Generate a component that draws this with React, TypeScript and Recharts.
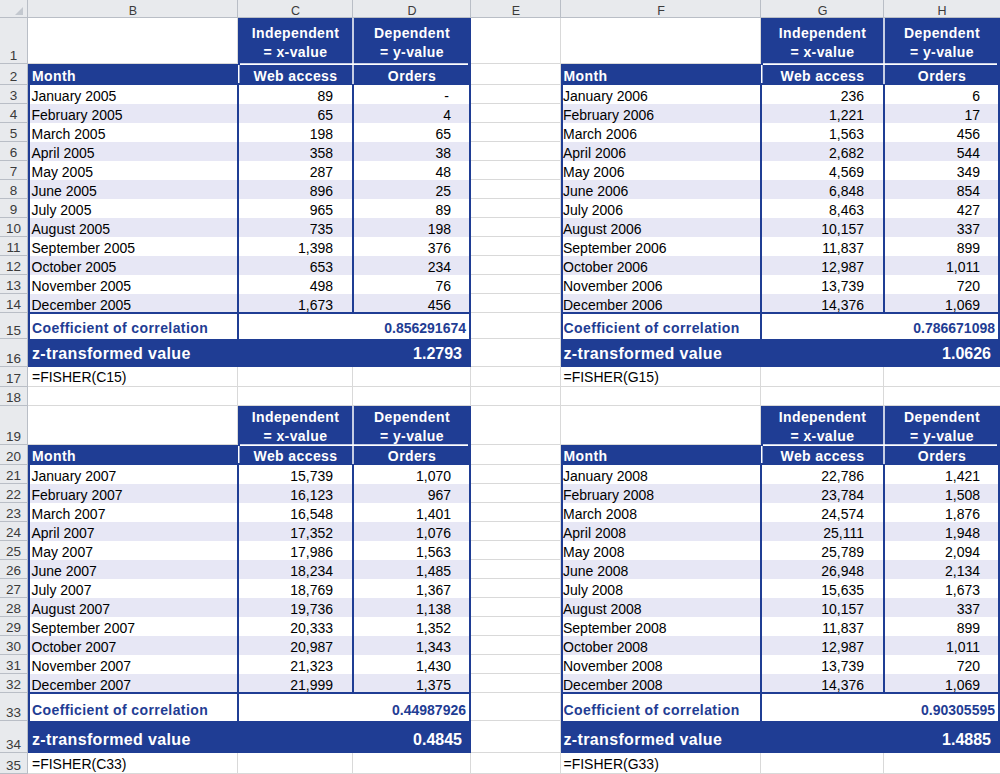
import { Surface, Layer, Rectangle, Text, Polygon } from "recharts";

// ---- data ----
const MONTHS = ["January", "February", "March", "April", "May", "June", "July", "August", "September", "October", "November", "December"];
const COLUMN_LETTERS = ["B", "C", "D", "E", "F", "G", "H"];
const YEARS = [2005, 2006, 2007, 2008];

const WEB_2005 = [89, 65, 198, 358, 287, 896, 965, 735, 1398, 653, 498, 1673];
const ORDERS_2005 = [0, 4, 65, 38, 48, 25, 89, 198, 376, 234, 76, 456];
const WEB_2006 = [236, 1221, 1563, 2682, 4569, 6848, 8463, 10157, 11837, 12987, 13739, 14376];
const ORDERS_2006 = [6, 17, 456, 544, 349, 854, 427, 337, 899, 1011, 720, 1069];
const WEB_2007 = [15739, 16123, 16548, 17352, 17986, 18234, 18769, 19736, 20333, 20987, 21323, 21999];
const ORDERS_2007 = [1070, 967, 1401, 1076, 1563, 1485, 1367, 1138, 1352, 1343, 1430, 1375];
const WEB_2008 = [22786, 23784, 24574, 25111, 25789, 26948, 15635, 10157, 11837, 12987, 13739, 14376];
const ORDERS_2008 = [1421, 1508, 1876, 1948, 2094, 2134, 1673, 337, 899, 1011, 720, 1069];

const CORRELATIONS = [0.856291674, 0.786671098, 0.44987926, 0.90305595];
const Z_VALUES = [1.2793, 1.0626, 0.4845, 1.4885];
const FORMULAS = ["=FISHER(C15)", "=FISHER(G15)", "=FISHER(C33)", "=FISHER(G33)"];

const X_HEADER = ["Independent", "= x-value"];
const Y_HEADER = ["Dependent", "= y-value"];
const X_NAME = "Web access";
const Y_NAME = "Orders";

// ---- sheet layout ----
const W = 1000;
const H = 774;
const COL_EDGES = [0, 28, 238, 353, 471, 561, 761, 884, 1000];
// index 0 = column header strip, then rows 1..35
const ROW_HEIGHTS = [
  18, 46, 21, 19, 19, 19, 19, 19, 19, 19, 19, 19, 19, 19, 19, 26, 28, 20, 19,
  39, 20, 19, 19, 19, 19, 19, 19, 19, 19, 19, 19, 19, 19, 28, 32, 21,
];
const ROW_TOPS = ROW_HEIGHTS.reduce<number[]>((acc, h, i) => {
  acc.push(i === 0 ? 0 : acc[i - 1] + ROW_HEIGHTS[i - 1]);
  return acc;
}, []);
const top = (r: number) => ROW_TOPS[r];
const bottom = (r: number) => (r + 1 < ROW_TOPS.length ? ROW_TOPS[r + 1] : H);

const NAVY = "#1f3d94";
const LAVENDER = "#e7e7f5";
const GRID = "#d9d9d9";
const HEAD_BG = "#e8eaed";
const HEAD_LINE = "#b9bec6";
const HEAD_TEXT = "#3b3b3b";
const FONT = "'Liberation Sans', Arial, sans-serif";

const fmt = (n: number) => n.toLocaleString("en-US");

function Label({ x, y, anchor = "start", size = 14, bold = false, color = "#000", spacing = 0, children }: any) {
  return (
    <Text
      x={x}
      y={y}
      textAnchor={anchor}
      verticalAnchor="end"
      fontFamily={FONT}
      fontSize={size}
      fontWeight={bold ? "bold" : "normal"}
      fill={color}
      letterSpacing={spacing}
    >
      {children}
    </Text>
  );
}

function Block({ col, row, year, web, orders, corr, z, formula }: any) {
  const bX = COL_EDGES[col];
  const cX = COL_EDGES[col + 1];
  const dX = COL_EDGES[col + 2];
  const eX = COL_EDGES[col + 3];
  const pad = col === 1 ? 4 : 2.5;
  const h1 = row;
  const h2 = row + 1;
  const first = row + 2;
  const last = row + 13;
  const corrRow = row + 14;
  const zRow = row + 15;
  const fRow = row + 16;
  const mid1 = (top(h1) + bottom(h1)) / 2;

  return (
    <Layer>
      {/* fills */}
      <Rectangle x={cX} y={top(h1)} width={eX - cX} height={bottom(h1) - top(h1)} fill={NAVY} />
      <Rectangle x={bX} y={top(h2)} width={eX - bX} height={bottom(h2) - top(h2)} fill={NAVY} />
      {MONTHS.map((m, i) => (
        <Rectangle
          key={m}
          x={bX}
          y={top(first + i)}
          width={eX - bX}
          height={bottom(first + i) - top(first + i)}
          fill={i % 2 === 1 ? LAVENDER : "#ffffff"}
        />
      ))}
      <Rectangle x={bX} y={top(corrRow)} width={eX - bX} height={bottom(corrRow) - top(corrRow)} fill="#ffffff" />
      <Rectangle x={bX} y={top(zRow)} width={eX - bX} height={bottom(zRow) - top(zRow)} fill={NAVY} />

      {/* navy borders */}
      <Rectangle x={bX} y={top(h2)} width={2} height={bottom(zRow) - top(h2)} fill={NAVY} />
      <Rectangle x={cX - 1} y={top(first)} width={2} height={bottom(corrRow) - top(first)} fill={NAVY} />
      <Rectangle x={dX - 1} y={top(first)} width={2} height={bottom(last) - top(first)} fill={NAVY} />
      <Rectangle x={eX - 2} y={top(h1)} width={2} height={bottom(zRow) - top(h1)} fill={NAVY} />
      <Rectangle x={bX} y={bottom(last) - 1} width={eX - bX} height={2} fill={NAVY} />

      {/* white separators in the header block */}
      <Rectangle x={dX - 0.75} y={top(h1)} width={1.5} height={bottom(h2) - top(h1) - 1} fill="#ffffff" />
      <Rectangle x={cX + 2} y={bottom(h1) - 0.75} width={eX - cX - 5} height={1.75} fill="#ffffff" />
      <Rectangle x={cX} y={top(h2) + 1} width={1.5} height={bottom(h2) - top(h2) - 3} fill="#ffffff" />

      {/* header text */}
      {X_HEADER.map((t, i) => (
        <Label key={"x" + i} x={(cX + dX) / 2} y={mid1 - 3.5 + i * 19} anchor="middle" bold color="#fff" spacing={0.4}>
          {t}
        </Label>
      ))}
      {Y_HEADER.map((t, i) => (
        <Label key={"y" + i} x={(dX + eX) / 2} y={mid1 - 3.5 + i * 19} anchor="middle" bold color="#fff" spacing={0.4}>
          {t}
        </Label>
      ))}
      <Label x={bX + pad} y={bottom(h2) - 4} bold color="#fff" spacing={0.4}>Month</Label>
      <Label x={(cX + dX) / 2} y={bottom(h2) - 4} anchor="middle" bold color="#fff" spacing={0.4}>{X_NAME}</Label>
      <Label x={(dX + eX) / 2} y={bottom(h2) - 4} anchor="middle" bold color="#fff" spacing={0.4}>{Y_NAME}</Label>

      {/* data rows */}
      {MONTHS.map((m, i) => {
        const y = bottom(first + i) - 3;
        return (
          <Layer key={"d" + m}>
            <Label x={bX + pad - 0.5} y={y}>{`${m} ${year}`}</Label>
            <Label x={dX - 20} y={y} anchor="end">{fmt(web[i])}</Label>
            <Label x={orders[i] === 0 ? eX - 22 : eX - 20} y={y} anchor="end">
              {orders[i] === 0 ? "-" : fmt(orders[i])}
            </Label>
          </Layer>
        );
      })}

      {/* summary rows */}
      <Label x={bX + pad} y={bottom(corrRow) - 6.5} bold color={NAVY} spacing={0.4}>Coefficient of correlation</Label>
      <Label x={eX - 5} y={bottom(corrRow) - 6.5} anchor="end" bold color={NAVY}>{String(corr)}</Label>
      <Label x={bX + pad} y={bottom(zRow) - 8.5} size={16} bold color="#fff" spacing={0.35}>z-transformed value</Label>
      <Label x={eX - 9} y={bottom(zRow) - 8.5} anchor="end" size={16} bold color="#fff">{z.toFixed(4)}</Label>
      <Label x={bX + pad} y={bottom(fRow) - 5}>{formula}</Label>
    </Layer>
  );
}

export default function App() {
  const rowCount = ROW_HEIGHTS.length - 1;
  const rowNums = Array.from({ length: rowCount }, (_, i) => i + 1);
  const blocks = [
    { col: 1, row: 1, web: WEB_2005, orders: ORDERS_2005 },
    { col: 5, row: 1, web: WEB_2006, orders: ORDERS_2006 },
    { col: 1, row: 19, web: WEB_2007, orders: ORDERS_2007 },
    { col: 5, row: 19, web: WEB_2008, orders: ORDERS_2008 },
  ];

  return (
    <div style={{ position: "absolute", left: 0, top: 0, width: W, height: H, background: "#fff" }}>
      <Surface width={W} height={H}>
        <Rectangle x={0} y={0} width={W} height={H} fill="#ffffff" />

        {/* cell gridlines */}
        {COL_EDGES.slice(2, -1).map((x) => (
          <Rectangle key={"gv" + x} x={x - 1} y={18} width={1} height={H - 18} fill={GRID} />
        ))}
        {rowNums.map((r) => (
          <Rectangle key={"gh" + r} x={28} y={bottom(r) - 1} width={W - 28} height={1} fill={GRID} />
        ))}

        {blocks.map((b, i) => (
          <Block
            key={i}
            {...b}
            year={YEARS[i]}
            corr={CORRELATIONS[i]}
            z={Z_VALUES[i]}
            formula={FORMULAS[i]}
          />
        ))}

        {/* column header strip */}
        <Rectangle x={0} y={0} width={W} height={18} fill={HEAD_BG} />
        <Rectangle x={0} y={17} width={W} height={1} fill={HEAD_LINE} />
        {COL_EDGES.slice(1, -1).map((x) => (
          <Rectangle key={"hv" + x} x={x - 1} y={0} width={1} height={18} fill={HEAD_LINE} />
        ))}
        {COLUMN_LETTERS.map((c, i) => (
          <Label key={c} x={(COL_EDGES[i + 1] + COL_EDGES[i + 2]) / 2} y={15} anchor="middle" size={12.5} color={HEAD_TEXT}>
            {c}
          </Label>
        ))}
        <Polygon
          points={[
            { x: 23, y: 7 },
            { x: 23, y: 15 },
            { x: 15, y: 15 },
          ]}
          fill="#c3c8cf"
        />

        {/* row header strip */}
        <Rectangle x={0} y={18} width={28} height={H - 18} fill={HEAD_BG} />
        <Rectangle x={27} y={0} width={1} height={H} fill={HEAD_LINE} />
        {rowNums.map((r) => (
          <Layer key={"rn" + r}>
            <Rectangle x={0} y={bottom(r) - 1} width={27} height={1} fill={HEAD_LINE} />
            <Label x={13.5} y={bottom(r) - 4} anchor="middle" size={13.5} color={HEAD_TEXT}>
              {String(r)}
            </Label>
          </Layer>
        ))}
      </Surface>
    </div>
  );
}
